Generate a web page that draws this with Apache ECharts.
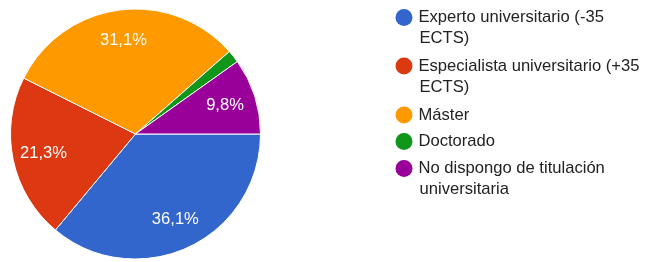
<!DOCTYPE html>
<html>
<head>
<meta charset="utf-8">
<script src="https://cdn.jsdelivr.net/npm/echarts@6/dist/echarts.min.js"></script>
<style>
  html, body { margin: 0; padding: 0; background: #fff; }
  #chart { width: 647px; height: 262px; }
</style>
</head>
<body>
<div id="chart"></div>
<script>
// categorias (primera linea / continuacion de la leyenda)
var categories = [
  'Experto universitario (-35 ECTS)',
  'Especialista universitario (+35 ECTS)',
  'Máster',
  'Doctorado',
  'No dispongo de titulación universitaria'
];
var legendLine1 = ['Experto universitario (-35', 'Especialista universitario (+35', 'Máster', 'Doctorado', 'No dispongo de titulación'];
var legendLine2 = ['ECTS)', 'ECTS)', '', '', 'universitaria'];
// respuestas (61 en total)
var counts = [22, 13, 19, 1, 6];
var colors = ['#3366cc', '#dc3912', '#ff9900', '#109618', '#990099'];

var FONT = 'Arial, "Liberation Sans", sans-serif';
var FS = 16.6;
var legendY = [17.5, 66, 115, 141.5, 168.5]; // centro del circulo
var legendLeft = 395.5;

var total = counts.reduce(function (a, b) { return a + b; }, 0);

var pieData = categories.map(function (c, i) {
  return { name: c, value: counts[i], itemStyle: { color: colors[i] } };
});

var legends = [];
var graphics = [];
categories.forEach(function (c, i) {
  legends.push({
    data: [c],
    orient: 'vertical',
    left: legendLeft,
    top: legendY[i] - 8.5,
    padding: 0,
    itemWidth: 19,
    itemHeight: 17,
    icon: 'circle',
    itemStyle: { borderWidth: 0 },
    selectedMode: false,
    formatter: function () { return legendLine1[i]; },
    textStyle: { fontFamily: FONT, fontSize: FS, color: '#222', lineHeight: 17 }
  });
  if (legendLine2[i]) {
    graphics.push({
      type: 'text',
      left: legendLeft + 24,
      top: legendY[i] + 21 - 8.5,
      style: { text: legendLine2[i], font: FS + 'px ' + FONT, fill: '#222', lineHeight: 17 }
    });
  }
});

var myChart = echarts.init(document.getElementById('chart'), null, { renderer: 'canvas' });
myChart.setOption({
  animation: false,
  legend: legends,
  graphic: graphics,
  series: [
    {
      name: 'sectores',
      type: 'pie',
      center: [135.5, 134],
      radius: [0, 125],
      startAngle: 0,
      clockwise: true,
      avoidLabelOverlap: false,
      label: { show: false },
      labelLine: { show: false },
      itemStyle: { borderColor: '#fff', borderWidth: 1 },
      emphasis: { disabled: true },
      data: pieData
    },
    {
      // capa transparente solo para situar las etiquetas mas hacia fuera
      name: 'etiquetas',
      type: 'pie',
      center: [135.5, 134],
      radius: [57, 125],
      startAngle: 0,
      clockwise: true,
      silent: true,
      legendHoverLink: false,
      avoidLabelOverlap: false,
      itemStyle: { color: 'rgba(0,0,0,0)' },
      labelLine: { show: false },
      label: {
        show: true,
        position: 'inside',
        color: '#fff',
        fontFamily: FONT,
        fontSize: FS,
        formatter: function (p) {
          var pct = p.value / total * 100;
          if (pct < 5) return '';
          return pct.toFixed(1).replace('.', ',') + '%';
        }
      },
      emphasis: { disabled: true },
      data: pieData.map(function (d) { return { name: d.name, value: d.value }; })
    }
  ]
});
</script>
</body>
</html>
